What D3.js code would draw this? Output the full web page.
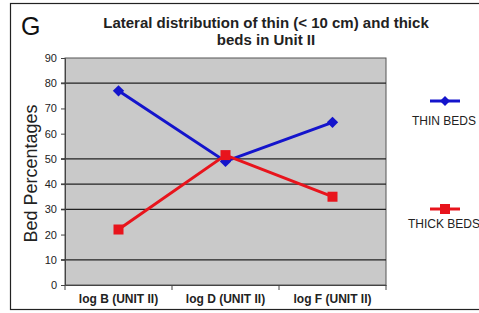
<!DOCTYPE html>
<html><head><meta charset="utf-8">
<script src="https://cdn.jsdelivr.net/npm/d3@7"></script>
<style>body{margin:0;background:#fff}svg{display:block}text{font-family:Arial,"Liberation Sans",sans-serif}</style>
</head><body><svg width="479" height="313"></svg>
<script>
const categories = ["log B (UNIT II)", "log D (UNIT II)", "log F (UNIT II)"];
const thinBeds = [77, 49, 64.5];
const thickBeds = [22, 51.5, 35];
const yTicks = [0, 10, 20, 30, 40, 50, 60, 70, 80, 90];
const gridValues = [10, 30, 40, 50, 80];
const seriesNames = ["THIN BEDS", "THICK BEDS"];

const svg = d3.select("svg");
const L = 65, R = 386, T = 58, B = 285;
const x = d3.scaleBand().domain(categories).range([L, R]);
const y = d3.scaleLinear().domain([0, 90]).range([B, T]);

svg.append("rect").attr("x", 10.5).attr("y", 3.5).attr("width", 480).attr("height", 306)
  .attr("fill", "#fff").attr("stroke", "#222").attr("stroke-width", 1.2);

svg.append("text").attr("x", 21).attr("y", 35).attr("font-size", 25).attr("fill", "#111").text("G");
svg.append("text").attr("x", 266).attr("y", 28).attr("text-anchor", "middle").attr("font-size", 15).attr("font-weight", "bold").attr("fill", "#222").text("Lateral distribution of thin (< 10 cm) and thick");
svg.append("text").attr("x", 266).attr("y", 45).attr("text-anchor", "middle").attr("font-size", 15).attr("font-weight", "bold").attr("fill", "#222").text("beds in Unit II");

svg.append("rect").attr("x", L).attr("y", T).attr("width", R - L).attr("height", B - T)
  .attr("fill", "#c9c9c9").attr("stroke", "#555").attr("stroke-width", 1);

svg.append("g").selectAll("line").data(gridValues).join("line")
  .attr("x1", L - 4).attr("x2", R).attr("y1", d => y(d)).attr("y2", d => y(d))
  .attr("stroke", "#222").attr("stroke-width", 1.2);

const ya = svg.append("g").attr("transform", `translate(${L},0)`)
  .call(d3.axisLeft(y).tickValues(yTicks).tickSize(4).tickPadding(4));
ya.select(".domain").attr("stroke", "#444");
ya.selectAll("line").attr("stroke", "#444");
ya.selectAll("text").attr("font-size", 11).attr("fill", "#222").style("font-family", "Arial, sans-serif");

const xa = svg.append("g").attr("transform", `translate(0,${B})`)
  .call(d3.axisBottom(x).tickSize(0).tickPadding(9));
xa.select(".domain").attr("stroke", "#444");
xa.selectAll("text").attr("font-size", 12).attr("font-weight", "bold").attr("fill", "#222").style("font-family", "Arial, sans-serif");
svg.append("g").selectAll("line").data([L, ...categories.map(c => x(c) + x.bandwidth())]).join("line")
  .attr("x1", d => d).attr("x2", d => d).attr("y1", B).attr("y2", B + 5).attr("stroke", "#444");

svg.append("text").attr("transform", `translate(37,${(T + B) / 2 + 2}) rotate(-90)`)
  .attr("text-anchor", "middle").attr("font-size", 18).attr("fill", "#222").text("Bed Percentages");

const line = d3.line().x((d, i) => x(categories[i]) + x.bandwidth() / 2).y(d => y(d));
const colors = ["#1414cc", "#e8141c"];
[thinBeds, thickBeds].forEach((s, k) => {
  svg.append("path").datum(s).attr("d", line).attr("fill", "none").attr("stroke", colors[k]).attr("stroke-width", 3);
});
svg.append("g").selectAll("path").data(thinBeds).join("path")
  .attr("d", d3.symbol(d3.symbolSquare, 64)())
  .attr("transform", (d, i) => `translate(${x(categories[i]) + x.bandwidth() / 2},${y(d)}) rotate(45)`)
  .attr("fill", colors[0]);
svg.append("g").selectAll("rect").data(thickBeds).join("rect")
  .attr("x", (d, i) => x(categories[i]) + x.bandwidth() / 2 - 5).attr("y", d => y(d) - 5)
  .attr("width", 10).attr("height", 10).attr("fill", colors[1]);

// legend
const legY = [101, 209];
const legTextY = [125, 228];
seriesNames.forEach((n, k) => {
  const g = svg.append("g");
  g.append("line").attr("x1", 430).attr("x2", 460).attr("y1", legY[k]).attr("y2", legY[k]).attr("stroke", colors[k]).attr("stroke-width", 3);
  if (k === 0) g.append("path").attr("d", d3.symbol(d3.symbolSquare, 50)()).attr("transform", `translate(445,${legY[k]}) rotate(45)`).attr("fill", colors[k]);
  else g.append("rect").attr("x", 440).attr("y", legY[k] - 5).attr("width", 10).attr("height", 10).attr("fill", colors[k]);
  g.append("text").attr("x", k === 0 ? 412 : 408).attr("y", legTextY[k]).attr("font-size", 12).attr("fill", "#222").text(n);
});
</script></body></html>
